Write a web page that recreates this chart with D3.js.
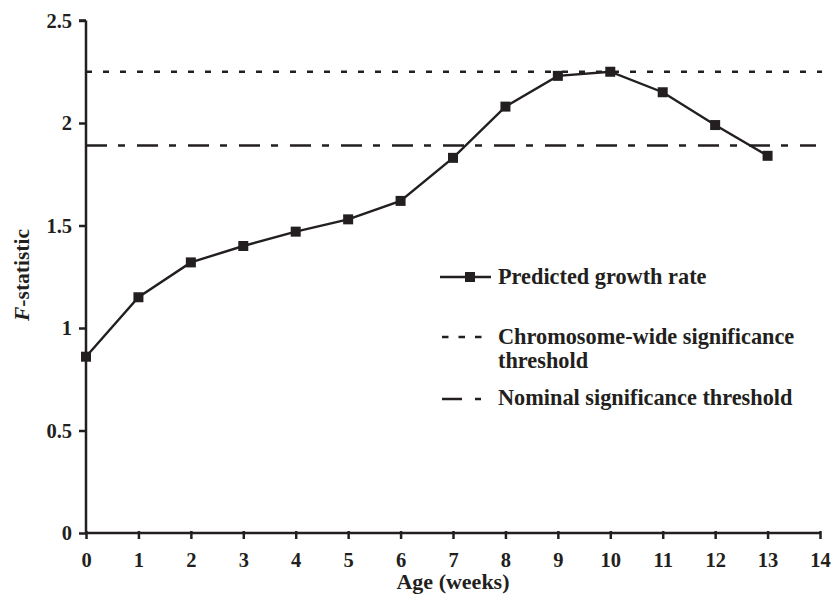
<!DOCTYPE html>
<html>
<head>
<meta charset="utf-8">
<script src="https://cdn.jsdelivr.net/npm/d3@7"></script>
<style>
  body { margin: 0; background: #fff; }
  text { font-family: "Liberation Serif", "Times New Roman", serif; font-weight: bold; fill: #231f20; }
</style>
</head>
<body>
<div id="chart"></div>
<script>
const weeks = [0, 1, 2, 3, 4, 5, 6, 7, 8, 9, 10, 11, 12, 13];
const growth = [0.86, 1.15, 1.32, 1.40, 1.47, 1.53, 1.62, 1.83, 2.08, 2.23, 2.25, 2.15, 1.99, 1.84];
const chromThreshold = 2.25;
const nominalThreshold = 1.89;
const xTicks = d3.range(0, 15);
const yTicks = [0, 0.5, 1, 1.5, 2, 2.5];
const legendLabels = ["Predicted growth rate", ["Chromosome-wide significance", "threshold"], "Nominal significance threshold"];

const width = 832, height = 597;
const ink = "#231f20";

const svg = d3.select("#chart").append("svg")
    .attr("width", width)
    .attr("height", height);

const x = d3.scaleLinear().domain([0, 14]).range([86, 820]);
const y = d3.scaleLinear().domain([0, 2.5]).range([533, 20.5]);

// threshold lines
svg.append("line")
    .attr("x1", x(0)).attr("x2", 822)
    .attr("y1", y(chromThreshold)).attr("y2", y(chromThreshold))
    .attr("stroke", ink).attr("stroke-width", 2.5)
    .attr("stroke-dasharray", "6,11");

svg.append("line")
    .attr("x1", x(0)).attr("x2", 816)
    .attr("y1", y(nominalThreshold)).attr("y2", y(nominalThreshold))
    .attr("stroke", ink).attr("stroke-width", 2.5)
    .attr("stroke-dasharray", "21,11,7,12");

// axes
const xAxis = svg.append("g")
    .attr("transform", `translate(0,${y(0)})`)
    .call(d3.axisBottom(x).tickValues(xTicks).tickSize(6).tickFormat(d3.format("d")));
const yAxis = svg.append("g")
    .attr("transform", `translate(${x(0)},0)`)
    .call(d3.axisLeft(y).tickValues(yTicks).tickSize(6).tickFormat(d => d));

[xAxis, yAxis].forEach(a => {
    a.select(".domain").attr("stroke", ink).attr("stroke-width", 2.5);
    a.selectAll(".tick line").attr("stroke", ink).attr("stroke-width", 2.5);
    a.selectAll(".tick text").attr("font-size", 20.5).attr("font-family", "Liberation Serif").attr("font-weight", "bold").attr("fill", ink);
});
xAxis.select(".domain").attr("d", `M${x(0)},0H${x(14)}`);
xAxis.selectAll(".tick line").attr("y1", -2).attr("y2", 6);
xAxis.selectAll(".tick text").attr("dy", 0).attr("y", 34);
yAxis.select(".domain").attr("d", `M0,${y(2.5)}V${y(0)}`);
yAxis.selectAll(".tick line").attr("x2", -7);
yAxis.selectAll(".tick text").attr("x", -14);
yAxis.append("path").attr("d", `M-7,${y(2.5)}H0`).attr("stroke", ink).attr("stroke-width", 2.5);

// axis titles
svg.append("text")
    .attr("x", (x(0) + x(14)) / 2).attr("y", 589)
    .attr("text-anchor", "middle").attr("font-size", 22)
    .text("Age (weeks)");

const yl = svg.append("text")
    .attr("transform", `translate(29,275) rotate(-90)`)
    .attr("text-anchor", "middle").attr("font-size", 21.5);
yl.append("tspan").attr("font-style", "italic").text("F");
yl.append("tspan").text("-statistic");

// series line and markers
const line = d3.line().x((d, i) => x(weeks[i])).y(d => y(d));
svg.append("path")
    .datum(growth)
    .attr("d", line)
    .attr("fill", "none").attr("stroke", ink).attr("stroke-width", 2.4);

svg.selectAll("rect.pt")
    .data(growth)
    .enter().append("rect")
    .attr("class", "pt")
    .attr("x", (d, i) => x(weeks[i]) - 5)
    .attr("y", d => y(d) - 5)
    .attr("width", 10).attr("height", 10)
    .attr("fill", ink);

// legend
const lg = svg.append("g");
lg.append("line").attr("x1", 440).attr("x2", 491).attr("y1", 277).attr("y2", 277)
    .attr("stroke", ink).attr("stroke-width", 2.4);
lg.append("rect").attr("x", 465).attr("y", 272).attr("width", 10).attr("height", 10).attr("fill", ink);
lg.append("text").attr("x", 498).attr("y", 284).attr("font-size", 22.3).text(legendLabels[0]);

lg.append("line").attr("x1", 442).attr("x2", 483).attr("y1", 337).attr("y2", 337)
    .attr("stroke", ink).attr("stroke-width", 2.5).attr("stroke-dasharray", "6.5,10");
lg.append("text").attr("x", 498).attr("y", 344).attr("font-size", 22.3).text(legendLabels[1][0]);
lg.append("text").attr("x", 498).attr("y", 368).attr("font-size", 22.3).text(legendLabels[1][1]);

lg.append("line").attr("x1", 442).attr("x2", 481).attr("y1", 399).attr("y2", 399)
    .attr("stroke", ink).attr("stroke-width", 2.5).attr("stroke-dasharray", "20,13,6,100");
lg.append("text").attr("x", 498).attr("y", 405).attr("font-size", 22.3).text(legendLabels[2]);
</script>
</body>
</html>
